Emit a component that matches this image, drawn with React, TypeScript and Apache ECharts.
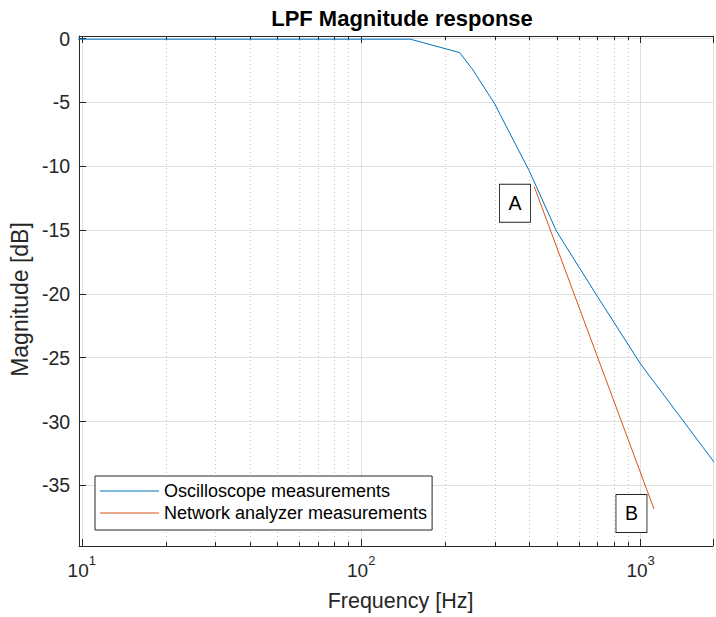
import React, { useEffect, useRef } from "react";
import * as echarts from "echarts";

// Oscilloscope measurements (blue)
const oscFreq = [9.5, 150, 225, 250, 300, 400, 500, 700, 1000, 2000];
const oscMag = [-0.05, -0.05, -1.1, -2.4, -5.1, -10.4, -15.1, -20.2, -25.5, -34.3];

// Network analyzer measurements (red)
const netFreq = [416, 1116];
const netMag = [-11.6, -36.85];

// Minor log ticks (x axis)
const minorTickFreqs = [20, 30, 40, 50, 60, 70, 80, 90, 200, 300, 400, 500, 600, 700, 800, 900];

// Text annotations
const annotLabels = ["A", "B"];
const annotFreq = [355, 927];
const annotMag = [-12.9, -37.2];

const seriesNames = ["Oscilloscope measurements", "Network analyzer measurements"];

const X_MIN = 9.78;
const X_MAX = 1815;
const Y_MIN = -39.75;
const Y_MAX = 0.2;

const FONT = "'Liberation Sans', Arial, Helvetica, sans-serif";
const AXIS_COLOR = "#262626";

export default function App() {
  const ref = useRef<HTMLDivElement>(null);

  useEffect(() => {
    document.body.style.margin = "0";
    if (!ref.current) return;
    const chart = echarts.init(ref.current, null, { renderer: "svg" });

    const isPow10 = (v: number) => {
      const l = Math.log10(v);
      return Math.abs(l - Math.round(l)) < 1e-6;
    };

    const option: any = {
      animation: false,
      backgroundColor: "#ffffff",
      textStyle: { fontFamily: FONT },
      title: {
        text: "LPF Magnitude response",
        left: 402,
        textAlign: "center",
        top: 7,
        padding: 0,
        textStyle: { fontFamily: FONT, fontSize: 22, fontWeight: "bold", color: "#000000" },
      },
      grid: { left: 79, right: 0, top: 36, bottom: 71, containLabel: false },
      legend: {
        data: seriesNames.map((n) => ({ name: n, icon: "rect" })),
        orient: "vertical",
        left: 95,
        top: 476,
        itemWidth: 59,
        itemHeight: 1,
        itemGap: 4,
        padding: [6, 5, 8, 5],
        backgroundColor: "#ffffff",
        borderColor: AXIS_COLOR,
        borderWidth: 1,
        borderRadius: 0,
        textStyle: { fontFamily: FONT, fontSize: 18, color: "#000000" },
      },
      xAxis: [
        {
          type: "log",
          logBase: 10,
          min: X_MIN,
          max: X_MAX,
          name: "Frequency [Hz]",
          nameLocation: "middle",
          nameGap: 44,
          nameTextStyle: { fontFamily: FONT, fontSize: 21.5, color: AXIS_COLOR, padding: [0, 0, 0, 9] },
          axisLine: { show: true, onZero: false, lineStyle: { color: AXIS_COLOR, width: 1 } },
          axisTick: { show: true, inside: true, length: 7, lineStyle: { color: AXIS_COLOR } },
          axisLabel: {
            margin: 8,
            color: AXIS_COLOR,
            showMinLabel: true,
            showMaxLabel: true,
            formatter: (v: number) => (isPow10(v) ? `{b|10}{s|${Math.round(Math.log10(v))}}` : ""),
            rich: {
              b: { fontFamily: FONT, fontSize: 19, color: AXIS_COLOR, verticalAlign: "bottom", lineHeight: 26 },
              s: { fontFamily: FONT, fontSize: 13, color: AXIS_COLOR, verticalAlign: "top", lineHeight: 13 },
            },
          },
          splitLine: { show: true, lineStyle: { color: "#dfdfdf", width: 1 } },
        },
        {
          type: "log",
          logBase: 10,
          min: X_MIN,
          max: X_MAX,
          position: "top",
          axisLine: { show: true, onZero: false, lineStyle: { color: AXIS_COLOR, width: 1 } },
          axisTick: { show: true, inside: true, length: 7, lineStyle: { color: AXIS_COLOR } },
          axisLabel: { show: false },
          splitLine: { show: false },
        },
      ],
      yAxis: {
        type: "value",
        min: Y_MIN,
        max: Y_MAX,
        splitNumber: 8,
        name: "Magnitude [dB]",
        nameLocation: "middle",
        nameGap: 42,
        nameTextStyle: { fontFamily: FONT, fontSize: 23, color: AXIS_COLOR, padding: [0, 17, 0, 0] },
        axisLine: { show: true, onZero: false, lineStyle: { color: AXIS_COLOR, width: 1 } },
        axisTick: { show: true, inside: true, length: 7, lineStyle: { color: AXIS_COLOR } },
        axisLabel: {
          margin: 9,
          fontFamily: FONT,
          fontSize: 19.5,
          color: AXIS_COLOR,
          formatter: (v: number) => (Math.abs(v / 5 - Math.round(v / 5)) < 1e-6 ? String(Math.round(v)) : ""),
        },
        splitLine: { show: true, lineStyle: { color: "#dfdfdf", width: 1 } },
      },
      series: [
        {
          type: "custom",
          name: "minor",
          silent: true,
          z: 1,
          xAxisIndex: 0,
          data: minorTickFreqs.map((f) => [f, -20]),
          encode: { x: 0, y: 1 },
          renderItem: (params: any, api: any) => {
            const cs = params.coordSys;
            const px = api.coord([api.value(0), -20])[0];
            const x = Math.round(px) + 0.5;
            const top = cs.y;
            const bottom = cs.y + cs.height;
            return {
              type: "group",
              children: [
                {
                  type: "line",
                  shape: { x1: x, y1: top, x2: x, y2: bottom },
                  style: { stroke: "#c4c4c4", lineWidth: 1, lineDash: [1, 3] },
                },
                {
                  type: "line",
                  shape: { x1: x, y1: bottom, x2: x, y2: bottom - 4 },
                  style: { stroke: AXIS_COLOR, lineWidth: 1 },
                },
                {
                  type: "line",
                  shape: { x1: x, y1: top, x2: x, y2: top + 4 },
                  style: { stroke: AXIS_COLOR, lineWidth: 1 },
                },
              ],
            };
          },
        },
        {
          type: "line",
          name: seriesNames[0],
          data: oscFreq.map((f, i) => [f, oscMag[i]]),
          symbol: "none",
          showSymbol: false,
          clip: true,
          z: 3,
          color: "#0072BD",
          lineStyle: { color: "#0072BD", width: 1 },
        },
        {
          type: "line",
          name: seriesNames[1],
          data: netFreq.map((f, i) => [f, netMag[i]]),
          symbol: "none",
          showSymbol: false,
          clip: true,
          z: 3,
          color: "#D95319",
          lineStyle: { color: "#D95319", width: 1 },
          markPoint: {
            symbol: "rect",
            symbolSize: [31, 38],
            silent: true,
            itemStyle: { color: "#ffffff", borderColor: AXIS_COLOR, borderWidth: 1 },
            label: {
              show: true,
              position: "inside",
              fontFamily: FONT,
              fontSize: 19.5,
              color: "#000000",
              formatter: (p: any) => p.name,
            },
            data: annotLabels.map((l, i) => ({ name: l, coord: [annotFreq[i], annotMag[i]] })),
          },
        },
      ],
    };

    chart.setOption(option);
    return () => chart.dispose();
  }, []);

  return <div ref={ref} style={{ width: 716, height: 617 }} />;
}
